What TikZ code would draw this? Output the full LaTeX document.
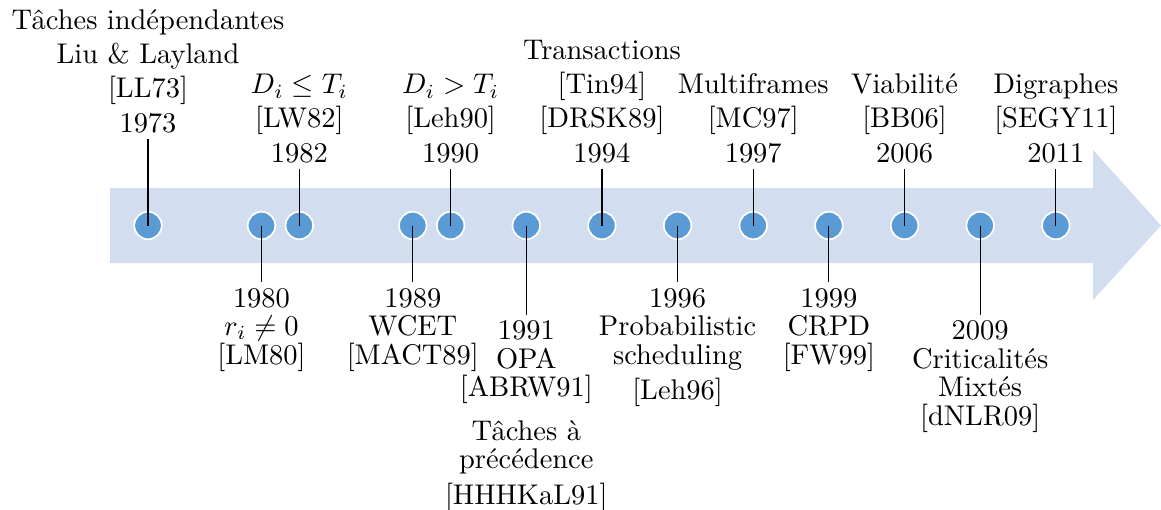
\documentclass[tikz,border=0pt]{standalone}
\usepackage{fontspec}
\usetikzlibrary{positioning}
\definecolor{bandblue}{RGB}{210,222,239}
\definecolor{dotblue}{RGB}{91,155,213}
\begin{document}
\begin{tikzpicture}[
        event/.style={circle, fill=dotblue, draw=white, line width=0.6pt, minimum size=0.34cm, inner sep=0pt},
        toplab/.style={anchor=south, align=center, inner sep=2pt},
        botlab/.style={anchor=north, align=center, inner sep=2pt, font=\fontsize{10pt}{10pt}\selectfont}
    ]
    \useasboundingbox (0,0) rectangle (14.333,6.296);
    % the timeline arrow
    \fill[bandblue] (1.358,3.049) -- (13.494,3.049) -- (13.494,2.593) -- (14.333,3.512)
        -- (13.494,4.444) -- (13.494,3.975) -- (1.358,3.975) -- cycle;
    % events
    \node[event] (e1973) at (1.827,3.512) {};
    \node[event] (e1980) at (3.228,3.512) {};
    \node[event] (e1982) at (3.695,3.512) {};
    \node[event] (e1989) at (5.096,3.512) {};
    \node[event] (e1990) at (5.563,3.512) {};
    \node[event] (e1991) at (6.497,3.512) {};
    \node[event] (e1994) at (7.431,3.512) {};
    \node[event] (e1996) at (8.365,3.512) {};
    \node[event] (e1997) at (9.299,3.512) {};
    \node[event] (e1999) at (10.233,3.512) {};
    \node[event] (e2006) at (11.167,3.512) {};
    \node[event] (e2009) at (12.101,3.512) {};
    \node[event] (e2011) at (13.035,3.512) {};
    % labels above
    \node[toplab] (l1973) at (1.827,4.580) {T\^aches ind\'ependantes\\Liu \& Layland\\{[LL73]}\\1973};
    \node[toplab] (l1982) at (3.695,4.210) {$D_i \leq T_i$\\{[LW82]}\\1982};
    \node[toplab] (l1990) at (5.563,4.210) {$D_i > T_i$\\{[Leh90]}\\1990};
    \node[toplab] (l1994) at (7.431,4.210) {Transactions\\{[Tin94]}\\{[DRSK89]}\\1994};
    \node[toplab] (l1997) at (9.299,4.210) {Multiframes\\{[MC97]}\\1997};
    \node[toplab] (l2006) at (11.167,4.210) {Viabilit\'e\\{[BB06]}\\2006};
    \node[toplab] (l2011) at (13.035,4.210) {Digraphes\\{[SEGY11]}\\2011};
    % labels below
    \node[botlab] (l1980) at (3.228,2.815) {1980\\$r_i \neq 0$\\{[LM80]}};
    \node[botlab] (l1989) at (5.096,2.815) {1989\\WCET\\{[MACT89]}};
    \node[botlab] (l1991) at (6.497,2.41) {1991\\OPA\\{[ABRW91]}};
    \node[botlab, below=0.05cm of l1991] (l1991b) {T\^aches \`a\\pr\'ec\'edence\\[2.5pt]{[HHHKaL91]}};
    \node[botlab] (l1996) at (8.365,2.815) {1996\\Probabilistic\\scheduling\\[2.3pt]{[Leh96]}};
    \node[botlab] (l1999) at (10.233,2.815) {1999\\CRPD\\{[FW99]}};
    \node[botlab] (l2009) at (12.101,2.41) {2009\\Criticalit\'es\\Mixt\'es\\{[dNLR09]}};
    % stems
    \draw (e1973.center) -- (l1973.south);
    \draw (e1982.center) -- (l1982.south);
    \draw (e1990.center) -- (l1990.south);
    \draw (e1994.center) -- (l1994.south);
    \draw (e1997.center) -- (l1997.south);
    \draw (e2006.center) -- (l2006.south);
    \draw (e2011.center) -- (l2011.south);
    \draw (e1980.center) -- (l1980.north);
    \draw (e1989.center) -- (l1989.north);
    \draw (e1991.center) -- (l1991.north);
    \draw (e1996.center) -- (l1996.north);
    \draw (e1999.center) -- (l1999.north);
    \draw (e2009.center) -- (l2009.north);
\end{tikzpicture}
\end{document}
